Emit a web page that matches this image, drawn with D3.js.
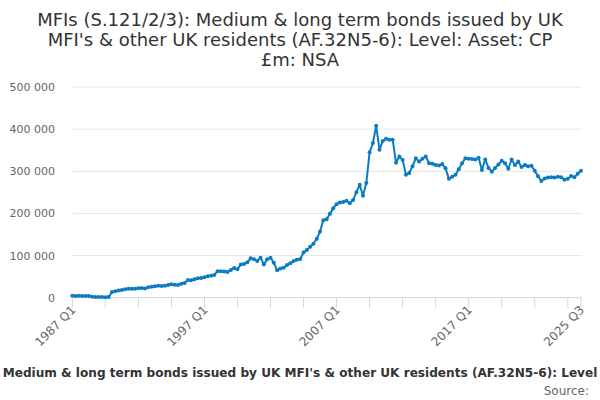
<!DOCTYPE html>
<html><head><meta charset="utf-8">
<script src="https://cdn.jsdelivr.net/npm/d3@7"></script>
<style>body{margin:0;background:#fff}svg{display:block;font-family:"DejaVu Sans",sans-serif}</style>
</head><body><svg id="c" width="600" height="400"></svg>
<script>
const titleLines = ["MFIs (S.121/2/3): Medium & long term bonds issued by UK",
  "MFI's & other UK residents (AF.32N5-6): Level: Asset: CP",
  "£m: NSA"];
const seriesName = "Medium & long term bonds issued by UK MFI's & other UK residents (AF.32N5-6): Level";
const sourceText = "Source:";
const startYear = 1987;
const values = [
  4500,4300,4400,4200,4000,3800,2000,1800,1500,1500,1200,1400,
  13500,15500,17000,18000,20000,21000,21500,21000,22500,23000,22000,25000,
  26000,27000,28500,27500,28500,30000,32000,30500,30000,33000,35000,42000,
  41500,44000,46000,47000,48500,51000,52000,54000,63000,62500,62000,61000,
  66000,70500,67500,79000,80000,84000,93500,91000,87000,95000,79000,91000,
  95000,83000,65000,69000,71000,77500,82000,87000,90000,92000,107000,113000,
  121000,128000,140000,157000,184000,186000,199000,212000,222000,226000,227000,230000,
  224000,232000,250000,268000,242000,272000,345000,367000,408000,351000,372000,377000,
  375000,375000,320000,335000,327000,292000,296000,312000,331000,323000,330000,335000,
  319000,318000,315000,314000,317000,307000,282000,287000,292000,305000,319000,331000,
  330000,329000,328000,332000,303000,328000,308000,299000,308000,316000,325000,319000,
  306000,328000,315000,323000,310000,315000,312000,313000,301000,288000,277000,283000,
  285000,286000,285000,287000,286000,280000,282000,289000,286000,294000,301000
];
const labels = values.map((v,i)=> (startYear + Math.floor(i/4)) + " Q" + (i%4+1));
const yTicks = [0,100000,200000,300000,400000,500000];
const labelIdx = [0,40,80,120,154];

const svg = d3.select("#c");
const m = {l:72.3, r:581, t:87, b:297.7};
const x = d3.scaleLinear().domain([0, values.length-1]).range([m.l, m.r]);
const y = d3.scaleLinear().domain([0, 500000]).range([m.b, m.t]);
const fmt = v => d3.format(",")(v).replace(/,/g, " ");

const t = svg.append("g").attr("fill","#333").attr("font-size",18).attr("text-anchor","middle");
titleLines.forEach((s,i)=> t.append("text").attr("x",300).attr("y",26+i*19.8).text(s));

// grid
svg.append("g").selectAll("line").data(yTicks.slice(1)).join("line")
  .attr("x1",m.l).attr("x2",m.r+1).attr("y1",d=>y(d)).attr("y2",d=>y(d))
  .attr("stroke","#e6e6e6");
svg.append("g").selectAll("text").data(yTicks).join("text")
  .attr("x",55).attr("y",d=>y(d)+4).attr("text-anchor","end")
  .attr("font-size",11).attr("fill","#666").text(fmt);

// x axis
const tickIdx = d3.range(0, values.length, 10).concat([values.length-1]);
svg.append("line").attr("x1",m.l).attr("x2",m.r+1).attr("y1",m.b).attr("y2",m.b).attr("stroke","#ccd6eb");
svg.append("g").selectAll("line").data(tickIdx).join("line")
  .attr("x1",d=>x(d)).attr("x2",d=>x(d)).attr("y1",m.b).attr("y2",m.b+10).attr("stroke","#ccd6eb");
svg.append("g").selectAll("text").data(labelIdx).join("text")
  .attr("transform",d=>`translate(${x(d)+4},${m.b+13}) rotate(-45)`)
  .attr("text-anchor","end").attr("font-size",12).attr("fill","#666").text(d=>labels[d]);

// line
const line = d3.line().x((d,i)=>x(i)).y(d=>y(d));
svg.append("path").datum(values).attr("d",line).attr("fill","none")
  .attr("stroke","#0b7bc3").attr("stroke-width",2).attr("stroke-linejoin","round");
svg.append("g").selectAll("circle").data(values).join("circle")
  .attr("cx",(d,i)=>x(i)).attr("cy",d=>y(d)).attr("r",2).attr("fill","#0b7bc3");

svg.append("text").attr("x",300).attr("y",377).attr("text-anchor","middle")
  .attr("font-size",12.1).attr("font-weight","bold").attr("fill","#333").text(seriesName);
svg.append("text").attr("x",589).attr("y",395).attr("text-anchor","end")
  .attr("font-size",12).attr("fill","#666").text(sourceText);
</script></body></html>
